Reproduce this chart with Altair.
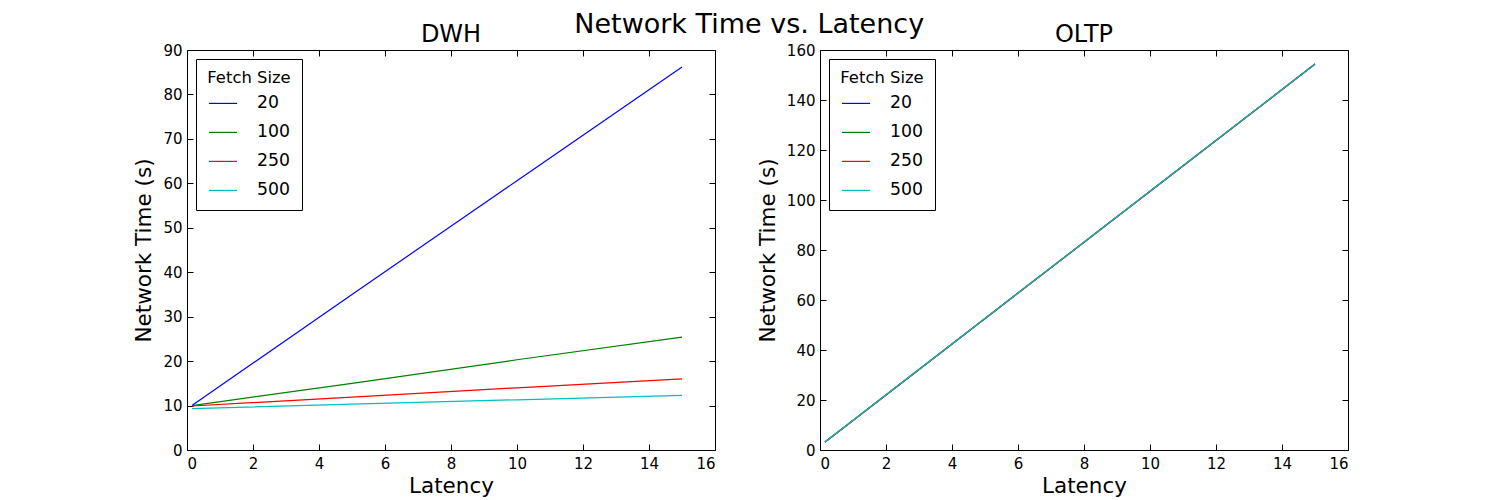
import altair as alt
import pandas as pd

# ---- data ----
latency = [0.15, 5, 10, 15]
fetch_sizes = ["20", "100", "250", "500"]
colors = ["#0000ff", "#008000", "#ff0000", "#00bfbf"]

dwh_20 = [10.0, 35.0, 60.6, 86.2]
dwh_100 = [10.0, 15.0, 20.3, 25.4]
dwh_250 = [9.9, 11.9, 14.0, 16.0]
dwh_500 = [9.3, 10.3, 11.3, 12.3]

oltp_20 = [3.2, 52.6, 103.5, 154.4]
oltp_100 = [3.2, 52.6, 103.5, 154.4]
oltp_250 = [3.1, 52.5, 103.4, 154.3]
oltp_500 = [3.2, 52.6, 103.5, 154.4]

x_ticks = [0, 2, 4, 6, 8, 10, 12, 14, 16]
dwh_ticks = [0, 10, 20, 30, 40, 50, 60, 70, 80, 90]
oltp_ticks = [0, 20, 40, 60, 80, 100, 120, 140, 160]


def frame(series):
    rows = []
    for order, (fs, vals) in enumerate(zip(fetch_sizes, series)):
        for x, y in zip(latency, vals):
            rows.append({"Latency": x, "Time": y, "Fetch Size": fs, "order": order})
    return pd.DataFrame(rows)


dwh_df = frame([dwh_20, dwh_100, dwh_250, dwh_500])
oltp_df = frame([oltp_20, oltp_100, oltp_250, oltp_500])

FONT = "DejaVu Sans"


def panel(df, title, ymax, yticks):
    xs = alt.Scale(domain=[0, 16], nice=False, zero=False)
    ys = alt.Scale(domain=[0, ymax], nice=False)
    base_axis = dict(domain=False, grid=False, offset=-6, tickSize=6,
                     tickColor="black", tickWidth=1)
    lines = alt.Chart(df).mark_line(strokeWidth=1.2).encode(
        x=alt.X("Latency:Q", scale=xs,
                axis=alt.Axis(values=x_ticks, title="Latency", orient="bottom",
                              labelPadding=6, titlePadding=4, **base_axis)),
        y=alt.Y("Time:Q", scale=ys,
                axis=alt.Axis(values=yticks, title="Network Time (s)", orient="left",
                              labelPadding=5, titlePadding=7, **base_axis)),
        color=alt.Color("Fetch Size:N",
                        scale=alt.Scale(domain=fetch_sizes, range=colors),
                        legend=alt.Legend(title="Fetch Size")),
        order="order:O",
    )
    mirror = alt.Chart(df).mark_line(opacity=0).encode(
        x=alt.X("Latency:Q", scale=xs,
                axis=alt.Axis(values=x_ticks, title=None, orient="top", labels=False,
                              **base_axis)),
        y=alt.Y("Time:Q", scale=ys,
                axis=alt.Axis(values=yticks, title=None, orient="right", labels=False,
                              **base_axis)),
        detail="Fetch Size:N",
    )
    return alt.layer(lines, mirror).resolve_axis(x="independent", y="independent").properties(
        width=528, height=400,
        title=alt.TitleParams(title, fontSize=24, font=FONT, fontWeight="normal", offset=-4),
    )


left = panel(dwh_df, "DWH", 90, dwh_ticks)
right = panel(oltp_df, "OLTP", 160, oltp_ticks)

chart = alt.hconcat(left, right, spacing=40).resolve_scale(color="independent").resolve_legend(
    color="independent"
).properties(
    title=alt.TitleParams("Network Time vs. Latency", fontSize=27, font=FONT,
                          fontWeight="normal", anchor="middle", offset=-16, dx=8),
    padding={"left": 125, "top": 2, "right": 5, "bottom": 0},
).configure_view(
    stroke="black", strokeWidth=1
).configure_axis(
    labelFont=FONT, labelFontSize=15, labelColor="black",
    titleFont=FONT, titleFontSize=21.5, titleFontWeight="normal", titleColor="black",
).configure_legend(
    orient="top-left", offset=9, padding=11,
    strokeColor="black", fillColor="white", cornerRadius=0,
    titleFont=FONT, titleFontSize=16.4, titleFontWeight="normal", titleColor="black",
    titleAnchor="middle", titlePadding=2,
    labelFont=FONT, labelFontSize=17.3, labelColor="black", labelOffset=19,
    symbolType="stroke", symbolSize=784, symbolStrokeWidth=1.2, rowPadding=5,
).configure_title(color="black")

chart.save("out.html", embed_options={"renderer": "svg", "actions": False})
